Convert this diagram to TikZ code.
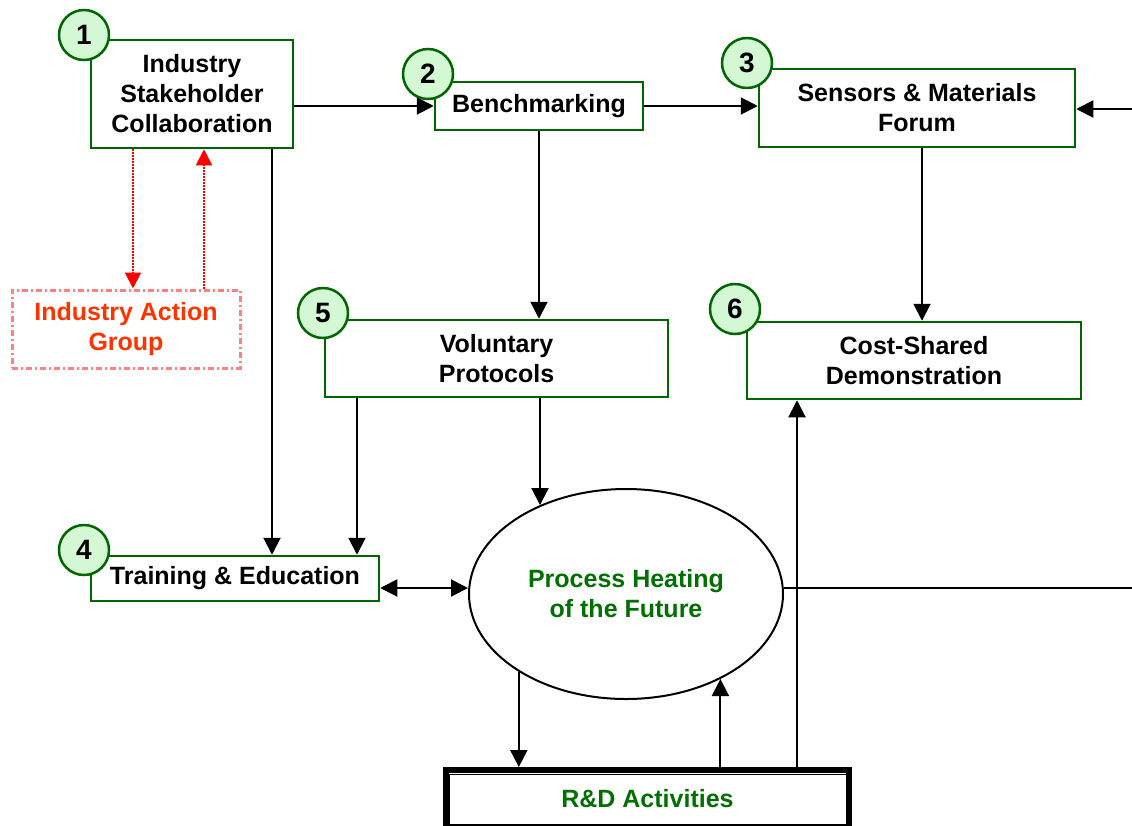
\documentclass[tikz,border=0pt]{standalone}
\usepackage{fontspec}
\setmainfont{Liberation Sans}
\usetikzlibrary{arrows.meta,shapes.geometric,calc}
\definecolor{boxgreen}{RGB}{0,102,0}
\definecolor{badgefill}{RGB}{212,247,212}
\definecolor{textgreen}{RGB}{0,112,0}
\definecolor{iagred}{RGB}{255,51,0}
\definecolor{iagborder}{RGB}{255,128,128}
\begin{document}
\begin{tikzpicture}[x=1pt, y=-1pt, line width=2pt,
		font=\fontsize{25}{30}\selectfont\bfseries,
		box/.style={draw=boxgreen, line width=2.5pt, fill=white, align=center, inner sep=0pt},
		badge/.style={circle, draw=boxgreen, line width=2.5pt, fill=badgefill, minimum size=50pt, inner sep=0pt, font=\fontsize{28}{30}\selectfont\bfseries},
		arr/.style={-{Triangle[length=17pt,width=17pt]}},
		arrb/.style={{Triangle[length=17pt,width=17pt]}-{Triangle[length=17pt,width=17pt]}},
		redarr/.style={-{Triangle[length=16pt,width=16pt]}, red, densely dotted}]
			\useasboundingbox (0,0) rectangle (1132,825);
			
			% boxes
			\node (stake) at (192,94) [box, minimum width=202pt, minimum height=108pt]{Industry\\Stakeholder\\Collaboration};
			\node (bench) at (539,106) [box, minimum width=208pt, minimum height=48pt]{Benchmarking};
			\node (forum) at (917,108) [box, minimum width=316pt, minimum height=78pt]{Sensors \& Materials\\Forum};
			\node (iag) at (126,329) [draw=iagborder, line width=3pt, dash pattern=on 6pt off 3pt on 2pt off 3pt, align=center, text=iagred, minimum width=228pt, minimum height=78pt, inner sep=0pt]{Industry Action\\Group};
			\node (volun) at (496.5,358.5) [box, minimum width=343pt, minimum height=77pt]{Voluntary\\Protocols};
			\node (demo) at (914,360.5) [box, minimum width=334pt, minimum height=77pt]{Cost-Shared\\Demonstration};
			\node (train) at (235,578.5) [box, minimum width=288pt, minimum height=45pt]{Training \& Education};
			\node (heat) at (626,594) [ellipse, draw, minimum width=314pt, minimum height=210pt, inner sep=0pt, align=center, text=textgreen]{Process Heating\\of the Future};
			\node (rd) at (647.5,799) [draw, line width=6pt, minimum width=403pt, minimum height=58pt, inner sep=0pt, text=textgreen]{R\&D Activities};
			\draw[thick] ($(rd.north west)+(6,7)$) rectangle ($(rd.south east)+(-6,-7)$);
			
			% number badges
			\foreach \n/\x/\y in {1/84/35, 2/428/74, 3/747/63, 4/84/550, 5/323/313, 6/735/309}{
				\node (n\n) at (\x,\y) [badge]{\n};
			}
			
			% free ends at the right margin
			\coordinate (rin) at (1132,109);
			\coordinate (rout) at (1132,588);
			
			% connectors
			\draw[arr] (stake.east |- bench.west) -- (bench.west);
			\draw[arr] (bench.east) -- (bench.east -| forum.west);
			\draw[arr] (rin) -- (rin -| forum.east);
			\draw[arr] (bench.south) -- (bench.south |- volun.north);
			\draw[arr] ([xshift=5]forum.south) -- ([xshift=5]forum.south |- demo.north);
			\draw[arr] ([xshift=80]stake.south) -- ([xshift=80]stake.south |- train.north);
			\draw[arr] ([xshift=-139.5]volun.south) -- ([xshift=-139.5]volun.south |- train.north);
			\draw[arr] ([xshift=43.5]volun.south) -- ([xshift=43.5]volun.south |- heat.134);
			\draw[arrb] ([yshift=-9.5]train.east) -- ([yshift=-9.5]train.east -| heat.west);
			\draw (heat.east |- rout) -- (rout);
			\draw[arr] (heat.216) -- (heat.216 |- rd.north);
			\draw[arr] (rd.north -| heat.318) -- (heat.318);
			\draw[arr] ([xshift=149.5]rd.north) -- ([xshift=149.5]rd.north |- demo.south);
			\draw[redarr] ([xshift=-59]stake.south) -- ([xshift=-59]stake.south |- iag.north);
			\draw[redarr] ([xshift=78]iag.north) -- ([xshift=78]iag.north |- stake.south);
		\end{tikzpicture}
\end{document}
